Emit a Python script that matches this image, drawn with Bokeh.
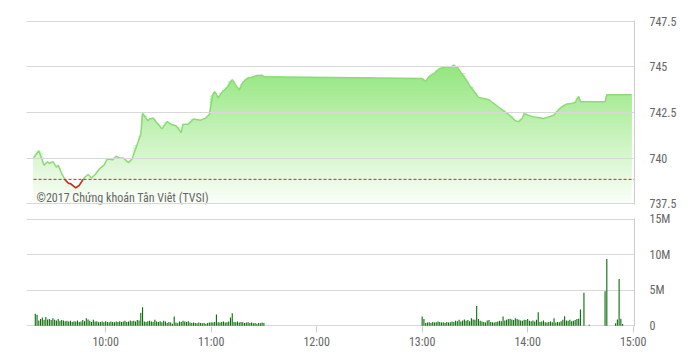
import numpy as np
import pandas as pd
from bokeh.plotting import figure
from bokeh.layouts import column
from bokeh.models import Range1d, FixedTicker, DatetimeTickFormatter, Label
from bokeh.embed import file_html
from bokeh.resources import INLINE

DAY = "2017-06-01 "

# ---- price series (VN-Index, intraday) ----
price_times = [
    "09:19", "09:22", "09:25", "09:27", "09:28", "09:30", "09:32", "09:33", "09:35", "09:37",
    "09:39", "09:40", "09:43", "09:45", "09:47", "09:48", "09:50", "09:52", "09:54", "09:57",
    "09:59", "10:01", "10:04", "10:06", "10:08", "10:10", "10:13", "10:15", "10:18", "10:20",
    "10:21", "10:24", "10:25", "10:27", "10:29", "10:32", "10:35", "10:37", "10:40", "10:43",
    "10:44", "10:47", "10:50", "10:54", "10:57", "10:59", "11:01", "11:02", "11:04", "11:06",
    "11:09", "11:12", "11:14", "11:16", "11:18", "11:21", "11:23", "11:26", "11:29", "11:30",
    "13:00", "13:02", "13:04", "13:07", "13:10", "13:12", "13:14", "13:16", "13:18", "13:20",
    "13:22", "13:25", "13:27", "13:30", "13:32", "13:35", "13:38", "13:40", "13:43", "13:45",
    "13:48", "13:50", "13:53", "13:55", "13:57", "13:58", "14:00", "14:03", "14:06", "14:09",
    "14:12", "14:15", "14:17", "14:19", "14:22", "14:25", "14:27", "14:29", "14:30", "14:44",
    "14:45", "14:59",
]
price_values = [
    740.00, 740.40, 739.60, 739.80, 739.70, 739.80, 739.50, 739.60, 739.15, 738.80,
    738.60, 738.60, 738.36, 738.50, 738.80, 738.93, 739.10, 738.90, 739.10, 739.45,
    739.60, 739.95, 739.90, 740.10, 740.00, 740.00, 739.75, 739.94, 740.76, 741.30,
    742.45, 742.05, 742.14, 742.20, 741.95, 741.60, 742.00, 741.86, 741.77, 741.40,
    741.86, 741.86, 742.14, 742.08, 742.20, 742.40, 743.50, 743.65, 743.30, 743.60,
    743.87, 744.30, 744.00, 743.73, 744.15, 744.40, 744.43, 744.53, 744.55, 744.46,
    744.36, 744.20, 744.48, 744.66, 744.92, 744.97, 745.03, 744.97, 745.10, 744.97,
    744.70, 744.30, 743.97, 743.60, 743.33, 743.27, 743.20, 743.05, 742.83, 742.69,
    742.47, 742.32, 742.05, 742.00, 742.20, 742.45, 742.36, 742.26, 742.23, 742.17,
    742.26, 742.36, 742.60, 742.78, 742.96, 743.00, 743.05, 743.38, 743.09, 743.09,
    743.47, 743.47,
]
reference_price = 738.83

# ---- volume (per minute) ----
vol_am_start = "09:20"
vol_am = [
    1.70, 1.55, 0.75, 0.95, 1.15, 0.85, 1.25, 0.90, 0.95, 0.80,
    1.05, 0.85, 0.75, 0.95, 0.70, 0.80, 0.75, 0.65, 0.70, 0.60,
    0.70, 0.55, 0.65, 0.60, 0.75, 0.55, 0.60, 0.80, 0.65, 1.05,
    0.90, 0.70, 0.55, 0.85, 0.60, 0.65, 0.50, 0.55, 0.60, 0.50,
    0.65, 0.55, 0.50, 0.60, 0.55, 0.50, 0.60, 0.55, 0.65, 0.55,
    0.60, 0.70, 0.55, 0.60, 0.75, 0.65, 0.70, 0.60, 0.80, 0.75,
    1.85, 2.60, 0.60, 0.55, 0.65, 0.70, 0.60, 0.55, 0.85, 0.60,
    0.55, 0.65, 0.50, 0.70, 0.60, 0.40, 0.55, 0.45, 0.30, 1.30,
    0.45, 0.35, 0.60, 0.55, 0.70, 0.60, 0.55, 0.65, 0.45, 0.40,
    0.45, 0.40, 0.35, 0.45, 0.40, 0.35, 0.40, 0.30, 0.40, 0.45,
    0.50, 0.45, 0.55, 1.60, 0.50, 0.45, 0.55, 0.60, 0.45, 0.50,
    0.60, 1.15, 1.75, 0.55, 0.50, 0.60, 0.45, 0.55, 0.50, 0.40,
    0.45, 0.50, 0.40, 0.45, 0.35, 0.40, 0.30, 0.40, 0.35, 0.45, 0.40,
]
vol_pm_start = "13:00"
vol_pm = [
    1.30, 0.95, 0.40, 0.45, 0.50, 0.40, 0.55, 0.45, 0.50, 0.60,
    0.55, 0.45, 0.50, 0.40, 0.55, 0.45, 0.50, 0.60, 0.55, 0.70,
    0.65, 0.85, 0.60, 0.75, 0.90, 0.70, 0.80, 0.65, 1.05, 0.90,
    0.85, 2.80, 0.95, 0.70, 0.60, 0.55, 0.45, 0.75, 0.80, 0.55,
    0.50, 0.45, 0.55, 0.60, 0.70, 0.65, 1.30, 0.75, 0.85, 0.95,
    1.00, 0.90, 0.80, 1.05, 0.95, 0.85, 0.75, 0.70, 0.85, 0.80,
    0.95, 0.70, 0.65, 0.75, 0.60, 0.85, 1.90, 0.55, 0.60, 0.75,
    0.50, 0.45, 0.55, 0.60, 0.50, 1.05, 0.45, 0.55, 0.50, 0.65,
    0.85, 1.35, 0.75, 0.70, 0.85, 0.65, 0.70, 0.80, 0.95, 1.00,
    2.30,
]
vol_late_times = ["14:32", "14:35", "14:44", "14:45", "14:50", "14:51", "14:52", "14:53", "14:54"]
vol_late = [4.65, 0.15, 4.85, 9.40, 0.35, 0.90, 6.60, 1.00, 0.25]

# ---- axes ----
x_tick_times = ["10:00", "11:00", "12:00", "13:00", "14:00", "15:00"]
price_ticks = [737.5, 740, 742.5, 745, 747.5]
price_tick_labels = ["737.5", "740", "742.5", "745", "747.5"]
vol_ticks = [0, 5000000, 10000000, 15000000]
vol_tick_labels = ["0", "5M", "10M", "15M"]
watermark = "©2017 Chứng khoán Tân Việt (TVSI)"

FONT = "Liberation Sans Narrow, Arial Narrow, Roboto Condensed, Liberation Sans"
LABEL_COLOR = "#666666"
GRID_COLOR = "#d8d8d8"
AXIS_COLOR = "#cccccc"


def to_ms(ts):
    return (pd.to_datetime([DAY + t for t in ts]).asi8 // 10**6).astype(float)


pt = to_ms(price_times)
pv = np.array(price_values)

am_t = (pd.date_range(DAY + vol_am_start, periods=len(vol_am), freq="min").asi8 // 10**6).astype(float)
pm_t = (pd.date_range(DAY + vol_pm_start, periods=len(vol_pm), freq="min").asi8 // 10**6).astype(float)
late_t = to_ms(vol_late_times)
vt = np.concatenate([am_t, pm_t, late_t])
vv = np.concatenate([vol_am, vol_pm, vol_late]) * 1e6

x0 = to_ms(["09:15"])[0]
x1 = to_ms(["15:00"])[0] + 45000
xr = Range1d(x0, x1)

# ---------------- price panel ----------------
p1 = figure(width=692, height=210, frame_width=608, frame_height=184,
            x_range=xr, y_range=Range1d(737.45, 747.55),
            x_axis_type="datetime", x_axis_location=None, y_axis_location="right",
            output_backend="svg", toolbar_location=None,
            min_border_left=26, min_border_right=58, min_border_top=20, min_border_bottom=6)
p1.outline_line_color = None
p1.background_fill_color = "white"
p1.border_fill_color = "white"
p1.xgrid.visible = False
p1.ygrid.grid_line_color = GRID_COLOR
p1.ygrid.level = "overlay"
p1.yaxis.ticker = FixedTicker(ticks=price_ticks)
p1.yaxis.major_label_overrides = {k: v for k, v in zip(price_ticks, price_tick_labels)}
p1.yaxis.axis_line_color = AXIS_COLOR
p1.yaxis.major_tick_line_color = None
p1.yaxis.minor_tick_line_color = None
p1.yaxis.major_label_standoff = 9
p1.yaxis.major_label_text_font = FONT
p1.yaxis.major_label_text_font_size = "12px"
p1.yaxis.major_label_text_color = LABEL_COLOR

# gradient fill: stacked bands, darker toward the top
y_bottom = 737.5
y_top = float(pv.max())
top_rgb = np.array([145, 230, 123])
bot_rgb = np.array([250, 254, 248])
n_bands = 48
levels = np.linspace(y_bottom, y_top, n_bands, endpoint=False)
for L in levels:
    f = (L - y_bottom) / (y_top - y_bottom)
    rgb = bot_rgb + (top_rgb - bot_rgb) * f
    col = "#%02x%02x%02x" % tuple(int(round(c)) for c in rgb)
    p1.varea(x=pt, y1=np.full(len(pt), L), y2=np.maximum(pv, L), fill_color=col)

p1.line(pt, pv, line_color="#8ddb78", line_width=1.5)

# red part of the line below the reference price
def below_segments(ts, vs, ref):
    xs_all, ys_all = [], []
    cx, cy = [], []
    for i in range(len(vs)):
        below = vs[i] < ref
        if i > 0:
            prev_below = vs[i - 1] < ref
            if below != prev_below:
                fr = (ref - vs[i - 1]) / (vs[i] - vs[i - 1])
                tc = ts[i - 1] + (ts[i] - ts[i - 1]) * fr
                if prev_below:
                    cx.append(tc); cy.append(ref)
                    xs_all.append(cx); ys_all.append(cy)
                    cx, cy = [], []
                else:
                    cx, cy = [tc], [ref]
        if below:
            cx.append(ts[i]); cy.append(vs[i])
    if cx:
        xs_all.append(cx); ys_all.append(cy)
    return xs_all, ys_all

rx, ry = below_segments(pt, pv, reference_price)
p1.multi_line(rx, ry, line_color="#dd2222", line_width=1.5)

p1.line([pt[0], x1], [reference_price, reference_price],
        line_color="#cc2a1a", line_width=1, line_dash="3 2")

p1.add_layout(Label(x=to_ms(["09:20"])[0] + 40000, y=737.79, text=watermark,
                    text_font=FONT, text_font_size="12px", text_color=LABEL_COLOR,
                    text_baseline="alphabetic"))

# ---------------- volume panel ----------------
p2 = figure(width=692, height=148, frame_width=608, frame_height=108,
            x_range=xr, y_range=Range1d(-100000, 15100000),
            x_axis_type="datetime", y_axis_location="right",
            output_backend="svg", toolbar_location=None,
            min_border_left=26, min_border_right=58, min_border_top=8, min_border_bottom=32)
p2.outline_line_color = None
p2.background_fill_color = "white"
p2.border_fill_color = "white"
p2.xgrid.visible = False
p2.ygrid.grid_line_color = GRID_COLOR
p2.yaxis.ticker = FixedTicker(ticks=vol_ticks)
p2.yaxis.major_label_overrides = {k: v for k, v in zip(vol_ticks, vol_tick_labels)}
p2.yaxis.axis_line_color = AXIS_COLOR
p2.yaxis.major_tick_line_color = None
p2.yaxis.minor_tick_line_color = None
p2.yaxis.major_label_standoff = 9
p2.yaxis.major_label_text_font = FONT
p2.yaxis.major_label_text_font_size = "12px"
p2.yaxis.major_label_text_color = LABEL_COLOR

p2.xaxis.ticker = FixedTicker(ticks=list(to_ms(x_tick_times)))
p2.xaxis.formatter = DatetimeTickFormatter(hours="%H:%M", minutes="%H:%M", hourmin="%H:%M",
                                           days="%H:%M", minsec="%H:%M")
p2.xaxis.axis_line_color = None
p2.xaxis.major_tick_line_color = AXIS_COLOR
p2.xaxis.major_tick_out = 6
p2.xaxis.major_tick_in = 0
p2.xaxis.minor_tick_line_color = None
p2.xaxis.major_label_standoff = 2
p2.xaxis.major_label_text_font = FONT
p2.xaxis.major_label_text_font_size = "12px"
p2.xaxis.major_label_text_color = LABEL_COLOR

p2.vbar(x=vt, top=vv, bottom=0, width=38000, fill_color="#0b6e0b", line_color=None)

layout = column(p1, p2, spacing=0)
open("out.html", "w").write(file_html(layout, INLINE))
